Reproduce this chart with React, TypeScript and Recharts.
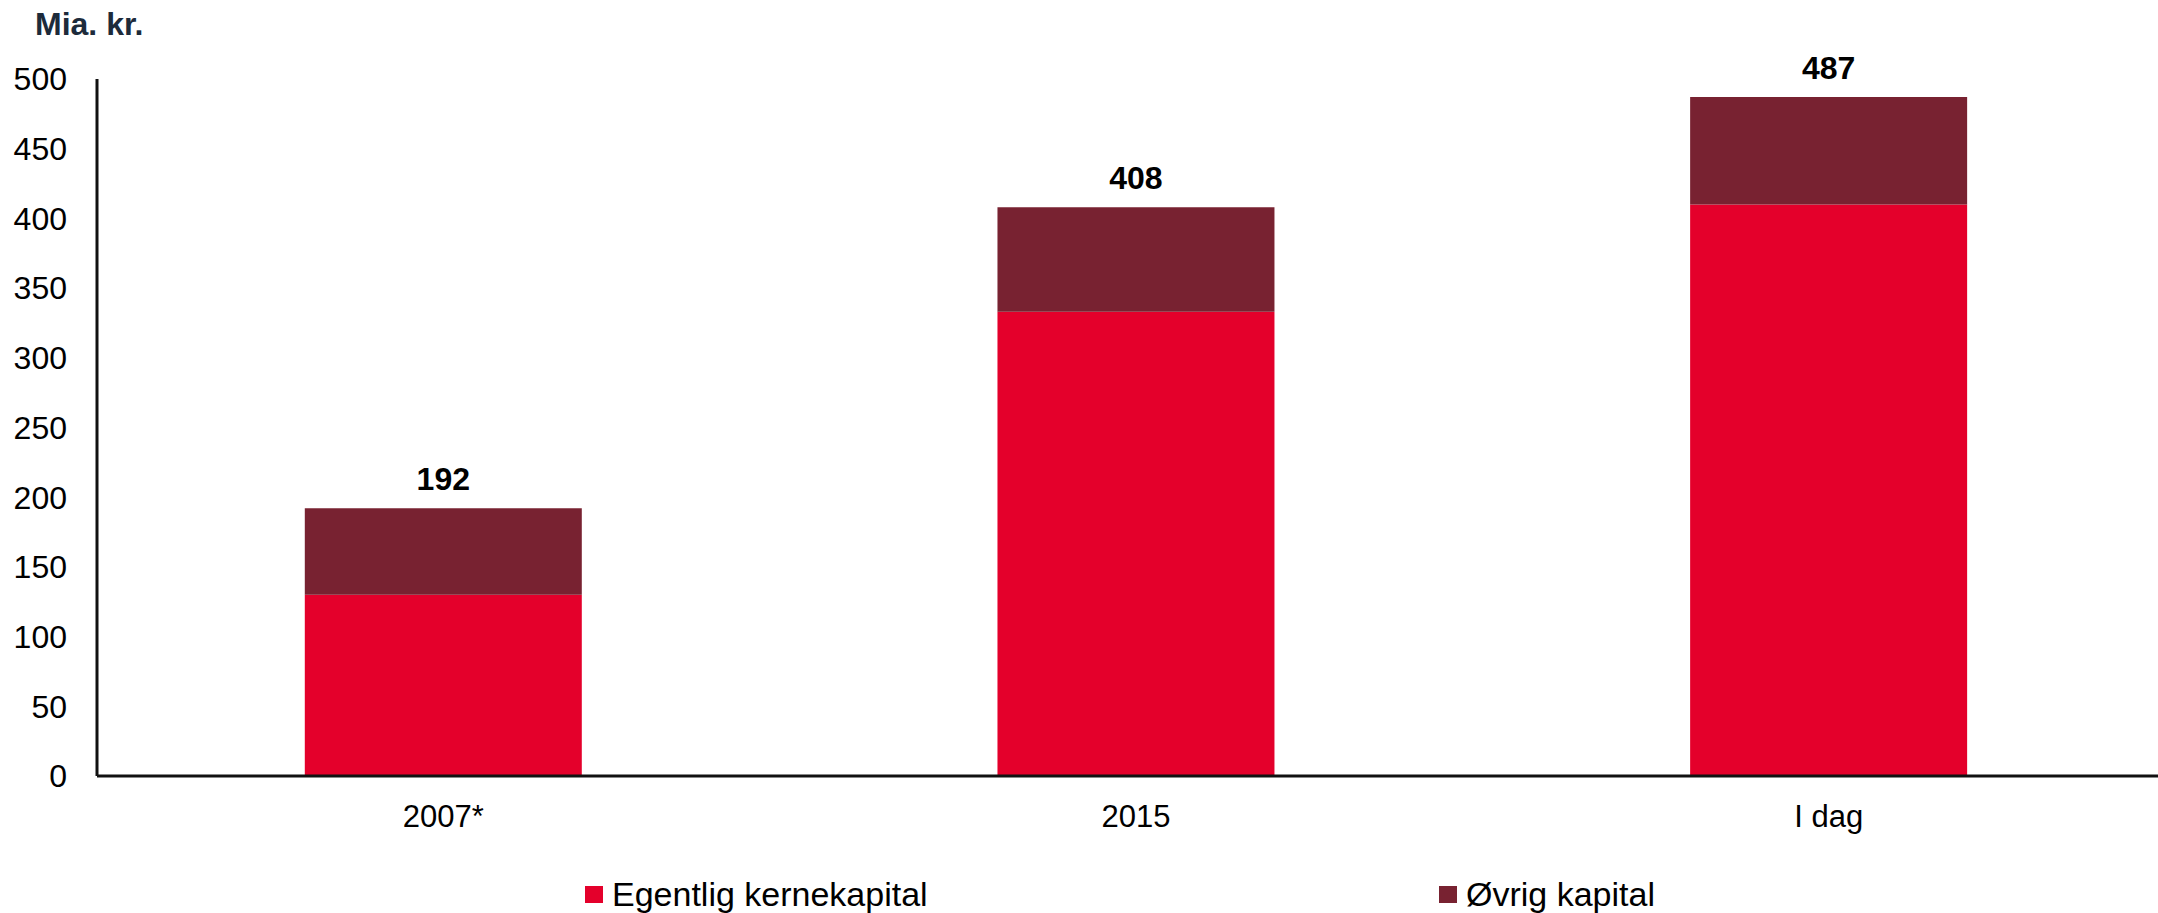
import { BarChart, Bar, XAxis, YAxis, LabelList, Legend } from 'recharts'

const categories = ['2007*', '2015', 'I dag']
const egentligKernekapital = [130, 333, 410]
const oevrigKapital = [62, 75, 77]
const totals = [192, 408, 487]
const yTicks = [0, 50, 100, 150, 200, 250, 300, 350, 400, 450, 500]

const RED = '#e4002b'
const MAROON = '#782231'
const FONT = '"Liberation Sans", Arial, sans-serif'

const data = categories.map((name, i) => ({
  name,
  egentlig: egentligKernekapital[i],
  oevrig: oevrigKapital[i],
  total: totals[i],
}))

const legendItems = [
  { label: 'Egentlig kernekapital', color: RED, left: 585 },
  { label: 'Øvrig kapital', color: MAROON, left: 1439 },
]

function ChartLegend() {
  return (
    <div style={{ position: 'relative', height: 38, fontFamily: FONT, fontSize: 34, color: '#000' }}>
      {legendItems.map((it) => (
        <div
          key={it.label}
          style={{ position: 'absolute', left: it.left, top: 0, height: 38, display: 'flex', alignItems: 'center', whiteSpace: 'nowrap' }}
        >
          <span style={{ display: 'inline-block', width: 18, height: 17, background: it.color, marginRight: 9 }} />
          {it.label}
        </div>
      ))}
    </div>
  )
}

export default function App() {
  return (
    <div style={{ position: 'absolute', left: 0, top: 0, width: 2158, height: 913, overflow: 'hidden', background: '#fff' }}>
      <div
        style={{
          position: 'absolute', left: 35, top: 4, fontFamily: FONT, fontWeight: 700,
          fontSize: 32, color: '#1d2b3b', lineHeight: '40px',
        }}
      >
        Mia. kr.
      </div>
      <BarChart
        width={2175}
        height={913}
        data={data}
        margin={{ top: 79, right: 0, left: 0, bottom: 0 }}
        barCategoryGap="30%"
      >
        <XAxis
          dataKey="name"
          tickLine={false}
          axisLine={{ stroke: '#111', strokeWidth: 3 }}
          tick={{ fontSize: 31, fill: '#000', fontFamily: FONT }}
          tickMargin={23}
          height={99}
        />
        <YAxis
          domain={[0, 500]}
          ticks={yTicks}
          width={97}
          tickLine={false}
          axisLine={{ stroke: '#111', strokeWidth: 3 }}
          tick={{ fontSize: 32, fill: '#000', fontFamily: FONT }}
          tickMargin={24}
          interval={0}
        />
        <Legend content={<ChartLegend />} wrapperStyle={{ top: 875, left: 0, width: 2175, height: 38 }} />
        <Bar dataKey="egentlig" name="Egentlig kernekapital" stackId="a" fill={RED} isAnimationActive={false} />
        <Bar dataKey="oevrig" name="Øvrig kapital" stackId="a" fill={MAROON} isAnimationActive={false}>
          <LabelList
            dataKey="total"
            position="top"
            offset={18}
            fill="#000"
            fontSize={32}
            fontWeight={700}
            fontFamily={FONT}
          />
        </Bar>
      </BarChart>
    </div>
  )
}
